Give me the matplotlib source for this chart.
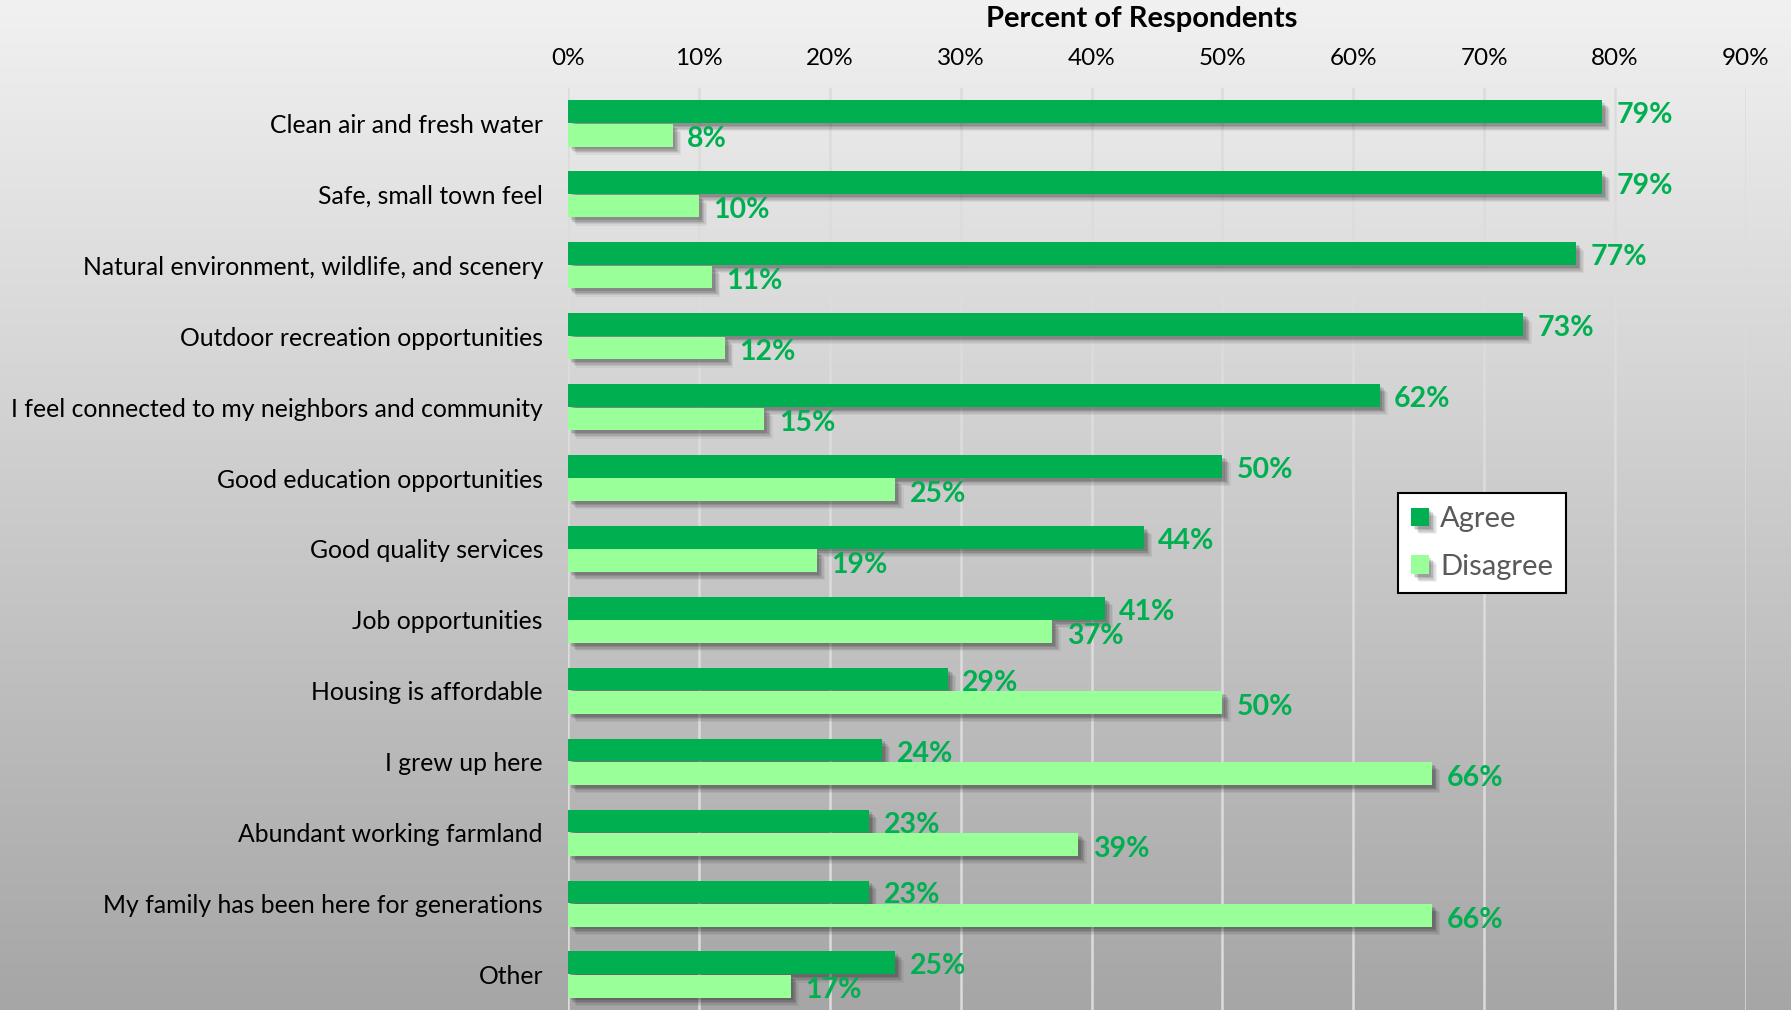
import numpy as np
import matplotlib.pyplot as plt
import matplotlib.patheffects as pe
from matplotlib.ticker import PercentFormatter

plt.rcParams['font.family'] = ['Lato', 'DejaVu Sans']

# Data
categories = [
    "Clean air and fresh water",
    "Safe, small town feel",
    "Natural environment, wildlife, and scenery",
    "Outdoor recreation opportunities",
    "I feel connected to my neighbors and community",
    "Good education opportunities",
    "Good quality services",
    "Job opportunities",
    "Housing is affordable",
    "I grew up here",
    "Abundant working farmland",
    "My family has been here for generations",
    "Other",
]
agree = [79, 79, 77, 73, 62, 50, 44, 41, 29, 24, 23, 23, 25]
disagree = [8, 10, 11, 12, 15, 25, 19, 37, 50, 66, 39, 66, 17]
x_ticks = [0, 10, 20, 30, 40, 50, 60, 70, 80, 90]

AGREE_C = '#00b050'
DISAGREE_C = '#99ff99'
LABEL_C = '#00b050'

W, H = 1791, 1010
fig = plt.figure(figsize=(W / 100, H / 100), dpi=100)

# gradient background over the whole figure
bg = fig.add_axes([0, 0, 1, 1])
grad = np.linspace(0, 1, 256).reshape(-1, 1)
top = np.array([0.945, 0.945, 0.945])
bot = np.array([0.65, 0.65, 0.65])
img = top + (bot - top) * grad[..., None]
img = np.repeat(img, 2, axis=1)
bg.imshow(img, aspect='auto', extent=[0, 1, 0, 1])
bg.set_axis_off()

ax = fig.add_axes([568 / W, 0, (1746 - 568) / W, 1 - 88 / H])
ax.patch.set_alpha(0)

y = np.arange(len(categories))
h = 0.32
off = 0.165

# soft drop shadow, several faint layers
shadow = [pe.SimplePatchShadow(offset=(o, -o), shadow_rgbFace='black', alpha=a)
          for o, a in [(6, 0.05), (5, 0.07), (4, 0.09), (3, 0.11), (2, 0.12)]]
shadow.append(pe.Normal())

b1 = ax.barh(y - off, agree, height=h, color=AGREE_C, label='Agree', zorder=3)
b2 = ax.barh(y + off, disagree, height=h, color=DISAGREE_C, label='Disagree', zorder=3)
for b in list(b1) + list(b2):
    b.set_path_effects(shadow)

for yi, a, d in zip(y, agree, disagree):
    ax.text(a + 1.1, yi - off + 0.05, f'{a}%', color=LABEL_C, fontsize=20.5, fontweight='bold',
            va='center', ha='left', zorder=4)
    ax.text(d + 1.1, yi + off + 0.06, f'{d}%', color=LABEL_C, fontsize=20.5, fontweight='bold',
            va='center', ha='left', zorder=4)

ax.set_xlim(0, 90)
ax.set_ylim(len(categories) - 0.5, -0.5)
ax.set_xticks(x_ticks)
ax.xaxis.set_major_formatter(PercentFormatter(decimals=0))
ax.xaxis.tick_top()
ax.set_yticks(y)
ax.set_yticklabels(categories, fontsize=17.8)
ax.tick_params(axis='x', labelsize=17.5, length=0, pad=14)
ax.tick_params(axis='y', length=0, pad=18)
ax.grid(axis='x', color='#dcdcdc', linewidth=1.8, zorder=0)
ax.set_axisbelow(True)
for s in ax.spines.values():
    s.set_visible(False)

fig.text(1142 / W, 1 - 19 / H, 'Percent of Respondents', fontsize=21, fontweight='bold',
         ha='center', va='center')

leg = ax.legend(loc='upper left', bbox_to_anchor=((1398 - 568) / (1746 - 568), 1 - (493 - 88) / (H - 88)),
                fontsize=21, frameon=True, fancybox=False, edgecolor='black', facecolor='white',
                framealpha=1, handlelength=0.6, handleheight=0.6, handletextpad=0.4,
                labelspacing=0.75, borderpad=0.45, borderaxespad=0)
leg.get_frame().set_linewidth(1.5)
for t in leg.get_texts():
    t.set_color('#595959')

fig.savefig('out.png', dpi=100)
